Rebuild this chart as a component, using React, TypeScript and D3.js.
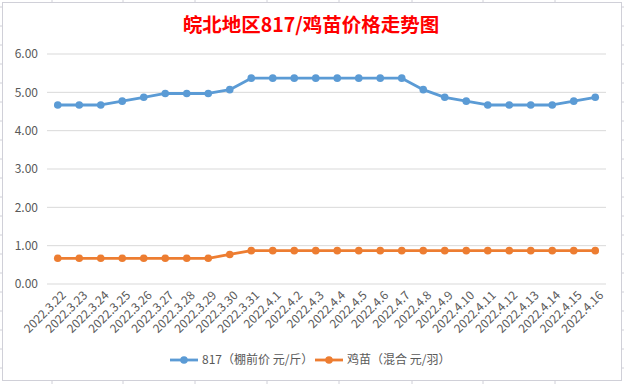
import React from 'react';
import * as d3 from 'd3';

const dates = [
  '2022.3.22', '2022.3.23', '2022.3.24', '2022.3.25', '2022.3.26', '2022.3.27', '2022.3.28',
  '2022.3.29', '2022.3.30', '2022.3.31', '2022.4.1', '2022.4.2', '2022.4.3', '2022.4.4',
  '2022.4.5', '2022.4.6', '2022.4.7', '2022.4.8', '2022.4.9', '2022.4.10', '2022.4.11',
  '2022.4.12', '2022.4.13', '2022.4.14', '2022.4.15', '2022.4.16',
];
const price817 = [
  4.67, 4.67, 4.67, 4.77, 4.87, 4.97, 4.97, 4.97, 5.07, 5.37, 5.37, 5.37, 5.37, 5.37,
  5.37, 5.37, 5.37, 5.07, 4.87, 4.77, 4.67, 4.67, 4.67, 4.67, 4.77, 4.87,
];
const priceChick = [
  0.67, 0.67, 0.67, 0.67, 0.67, 0.67, 0.67, 0.67, 0.77, 0.87, 0.87, 0.87, 0.87, 0.87,
  0.87, 0.87, 0.87, 0.87, 0.87, 0.87, 0.87, 0.87, 0.87, 0.87, 0.87, 0.87,
];
const yTicks = [0, 1, 2, 3, 4, 5, 6];
const seriesNames = ['817（棚前价 元/斤）', '鸡苗（混合 元/羽）'];
const colors = ['#5b9bd5', '#ed7d31'];

const W = 624, H = 384;
const font = '"Noto Sans CJK SC", "Open Sans", sans-serif';

export default function App() {
  const x = d3.scalePoint<string>().domain(dates).range([47, 606]).padding(0.5);
  const y = d3.scaleLinear().domain([0, 6]).range([284, 54]);
  const line = d3.line<number>().x((_, i) => x(dates[i]) as number).y(d => y(d));
  const series = [price817, priceChick];

  // spreadsheet grid stubs around the chart frame
  const colLines = [52, 123, 195, 267, 339, 412, 483, 555];
  const rowLines = d3.range(7, H, 19);

  return (
    <svg width={W} height={H} style={{ position: 'absolute', left: 0, top: 0, background: '#fff' }}>
      {colLines.map(c => (
        <g key={'c' + c}>
          <line x1={c} x2={c} y1={0} y2={2} stroke="#d0d0d8" />
          <line x1={c} x2={c} y1={381} y2={H} stroke="#d0d0d8" />
        </g>
      ))}
      {rowLines.map(r => (
        <g key={'r' + r}>
          <line x1={0} x2={2} y1={r} y2={r} stroke="#d0d0d8" />
          <line x1={622} x2={W} y1={r} y2={r} stroke="#d0d0d8" />
        </g>
      ))}
      <rect x={2.5} y={2.5} width={619} height={378} fill="#fff" stroke="#d0d0d8" />

      <text x={311} y={32} textAnchor="middle" fill="#ff0000" fontSize={19.5} fontWeight="bold"
        fontFamily={font}>皖北地区817/鸡苗价格走势图</text>

      {yTicks.map(t => (
        <g key={t}>
          <line x1={47} x2={606} y1={y(t)} y2={y(t)} stroke="#d9d9d9" />
          <text x={38} y={y(t)} dy="0.35em" textAnchor="end" fontSize={12} fill="#595959"
            fontFamily={font}>{t.toFixed(2)}</text>
        </g>
      ))}

      {dates.map(d => (
        <text key={d} transform={`translate(${(x(d) as number) + 9},${296}) rotate(-45)`}
          textAnchor="end" fontSize={12} fill="#595959" fontFamily={font}>{d}</text>
      ))}

      {series.map((s, k) => (
        <g key={k}>
          <path d={line(s) || ''} fill="none" stroke={colors[k]} strokeWidth={2.8}
            strokeLinejoin="round" />
          {s.map((v, i) => (
            <circle key={i} cx={x(dates[i])} cy={y(v)} r={3.8} fill={colors[k]} />
          ))}
        </g>
      ))}

      {seriesNames.map((n, k) => {
        const lx = k === 0 ? 170 : 315;
        return (
          <g key={n}>
            <line x1={lx} x2={lx + 28} y1={360} y2={360} stroke={colors[k]} strokeWidth={2.8} />
            <circle cx={lx + 14} cy={360} r={3.8} fill={colors[k]} />
            <text x={lx + 32} y={360} dy="0.35em" fontSize={12} fill="#595959"
              fontFamily={font}>{n}</text>
          </g>
        );
      })}
    </svg>
  );
}
